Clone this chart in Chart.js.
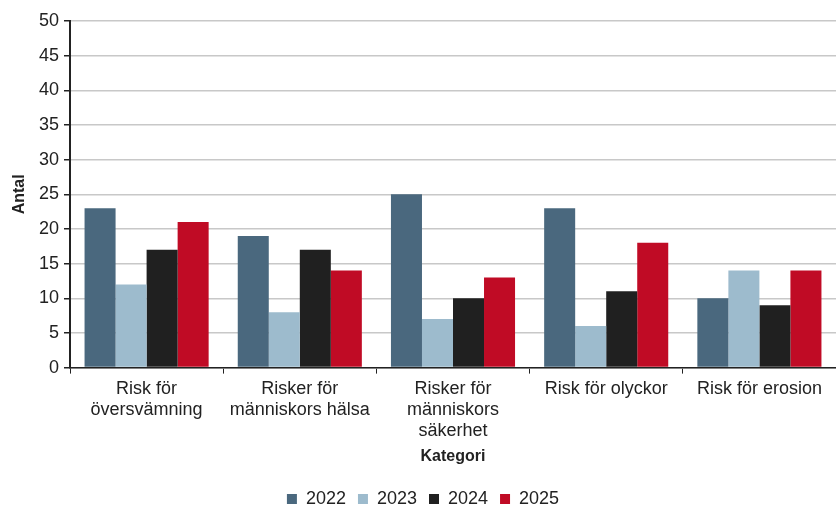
<!DOCTYPE html>
<html>
<head>
<meta charset="utf-8">
<script src="https://cdn.jsdelivr.net/npm/chart.js@4/dist/chart.umd.min.js"></script>
<style>
  html, body { margin: 0; padding: 0; background: #fff; }
  #wrap { width: 836px; height: 509px; }
</style>
</head>
<body>
<div id="wrap"><canvas id="riskChart"></canvas></div>
<script>
// categories and yearly counts
var categories = [
  ["Risk för", "översvämning"],
  ["Risker för", "människors hälsa"],
  ["Risker för", "människors", "säkerhet"],
  "Risk för olyckor",
  "Risk för erosion"
];
var years = ["2022", "2023", "2024", "2025"];
var values2022 = [23, 19, 25, 23, 10];
var values2023 = [12, 8, 7, 6, 14];
var values2024 = [17, 17, 10, 11, 9];
var values2025 = [21, 14, 13, 18, 14];
var colors = ["#4a687e", "#9dbbcd", "#202020", "#c00b25"];

var series = [values2022, values2023, values2024, values2025];
var datasets = years.map(function (y, i) {
  return {
    label: y,
    data: series[i],
    backgroundColor: colors[i],
    borderWidth: 0,
    categoryPercentage: 0.81,
    barPercentage: 1.0
  };
});

Chart.defaults.font.family = "'Liberation Sans', Arial, sans-serif";
Chart.defaults.color = "#222";

var ctx = document.getElementById("riskChart").getContext('2d');
var chart = new Chart(ctx, {
  type: 'bar',
  data: {
    labels: categories,
    datasets: datasets
  },
  options: {
    responsive: true,
    maintainAspectRatio: false,
    animation: false,
    // negative bottom padding pulls the legend closer to the canvas edge
    layout: { padding: { top: 21, right: 0, left: 10, bottom: -9 } },
    plugins: {
      legend: {
        position: 'bottom',
        labels: {
          boxWidth: 10,
          boxHeight: 10,
          padding: 12,
          font: { size: 18 },
          color: '#222'
        }
      },
      tooltip: { enabled: false }
    },
    scales: {
      x: {
        grid: {
          offset: true,
          drawOnChartArea: false,
          drawTicks: true,
          tickLength: 6,
          tickColor: '#222'
        },
        border: { color: '#222', width: 1.5 },
        ticks: {
          font: { size: 18, lineHeight: 1.17 },
          color: '#222',
          maxRotation: 0,
          padding: 5
        },
        title: {
          display: true,
          text: 'Kategori',
          font: { size: 16, weight: 'bold' },
          color: '#222',
          padding: { top: 0, bottom: 12 }
        }
      },
      y: {
        min: 0,
        max: 50,
        ticks: {
          stepSize: 5,
          font: { size: 18 },
          color: '#222',
          padding: 5
        },
        grid: {
          color: '#c8c8c8',
          lineWidth: 1.5,
          tickLength: 6,
          tickColor: '#222'
        },
        border: { color: '#222', width: 2 },
        title: {
          display: true,
          text: 'Antal',
          font: { size: 16, weight: 'bold' },
          color: '#222',
          padding: { top: 0, bottom: 4 }
        },
        afterFit: function (axis) { axis.width = 60; }
      }
    }
  }
});
</script>
</body>
</html>
